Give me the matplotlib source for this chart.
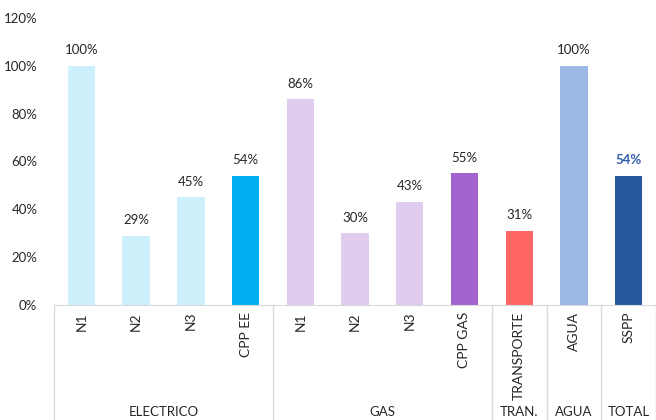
import matplotlib.pyplot as plt
from matplotlib.transforms import blended_transform_factory

plt.rcParams['font.family'] = ['Lato', 'DejaVu Sans']

categorias = ["N1", "N2", "N3", "CPP EE", "N1", "N2", "N3", "CPP GAS",
              "TRANSPORTE", "AGUA", "SSPP"]
valores = [100, 29, 45, 54, 86, 30, 43, 55, 31, 100, 54]
colores = ["#CCF0FC", "#CCF0FC", "#CCF0FC", "#00B0F0",
           "#E0CCEE", "#E0CCEE", "#E0CCEE", "#A364D0",
           "#FF6666", "#9BB8E6", "#26589E"]
grupos = ["ELECTRICO", "GAS", "TRAN.", "AGUA", "TOTAL"]
grupos_tam = [4, 4, 1, 1, 1]

fig = plt.figure(figsize=(6.56, 4.2), dpi=100)
ax = fig.add_axes([54 / 656, 115 / 420, 602 / 656, 287 / 420])

x = list(range(len(categorias)))
ax.bar(x, valores, width=0.5, color=colores)

for i, v in enumerate(valores):
    ultimo = i == len(valores) - 1
    ax.annotate(f"{v}%", (i, v), xytext=(0, 7), textcoords="offset points",
                ha="center", va="bottom", fontsize=9.5,
                color="#2E5CA8" if ultimo else "#262626",
                fontweight="bold" if ultimo else "normal")

ax.set_xlim(-0.5, len(categorias) - 0.5)
ax.set_ylim(0, 120)
ax.set_yticks(range(0, 121, 20))
ax.set_yticklabels([f"{t}%" for t in range(0, 121, 20)])
ax.set_xticks(x)
ax.set_xticklabels(categorias, rotation=90, va="top")
ax.tick_params(axis="both", length=0, labelsize=9.5, colors="#262626")
ax.tick_params(axis="x", pad=5, labelsize=10)
ax.tick_params(axis="y", pad=12)

for lado in ["top", "right", "left"]:
    ax.spines[lado].set_visible(False)
ax.spines["bottom"].set_color("#D9D9D9")

# separadores de grupos y etiquetas
trans = blended_transform_factory(ax.transData, ax.transAxes)
inicio = -0.5
ax.plot([inicio, inicio], [0, -0.42], transform=trans, color="#D9D9D9",
        lw=1, clip_on=False)
for g, n in zip(grupos, grupos_tam):
    fin = inicio + n
    ax.plot([fin, fin], [0, -0.42], transform=trans, color="#D9D9D9",
            lw=1, clip_on=False)
    ax.text((inicio + fin) / 2, -0.373, g, transform=trans, ha="center",
            va="center", fontsize=9.5, color="#262626")
    inicio = fin

fig.savefig("out.png", dpi=100)
